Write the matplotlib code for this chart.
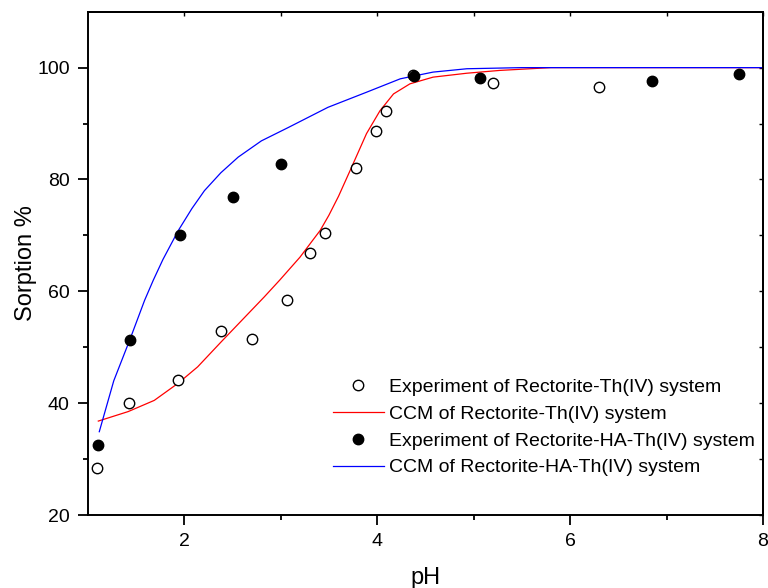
import matplotlib.pyplot as plt
import matplotlib.ticker as mticker

plt.rcParams['font.family'] = ['Liberation Sans', 'DejaVu Sans']

# experiment, Rectorite-Th(IV)
ph_th = [1.10, 1.43, 1.94, 2.38, 2.70, 3.07, 3.30, 3.46, 3.78, 3.99, 4.09, 4.37, 5.20, 6.30]
sorp_th = [28.4, 40.0, 44.1, 52.9, 51.5, 58.4, 66.8, 70.5, 82.0, 88.6, 92.3, 98.6, 97.2, 96.6]

# experiment, Rectorite-HA-Th(IV)
ph_ha = [1.11, 1.44, 1.96, 2.51, 3.00, 4.38, 5.07, 6.85, 7.75]
sorp_ha = [32.5, 51.3, 70.0, 76.9, 82.8, 98.5, 98.2, 97.6, 98.9]

# CCM fits
ccm_th_x = [1.11, 1.42, 1.69, 1.94, 2.14, 2.38, 2.63, 2.83, 2.99, 3.20, 3.41, 3.50, 3.60,
            3.72, 3.89, 4.03, 4.17, 4.34, 4.58, 4.93, 5.27, 5.8, 8.0]
ccm_th_y = [36.8, 38.5, 40.5, 43.6, 46.5, 50.9, 55.4, 59.0, 62.0, 66.1, 70.9, 73.6, 77.0,
            81.6, 88.2, 92.3, 95.3, 97.1, 98.3, 99.0, 99.5, 100.0, 100.0]

ccm_ha_x = [1.12, 1.27, 1.44, 1.59, 1.68, 1.78, 1.94, 2.08, 2.21, 2.38, 2.56, 2.80,
            3.08, 3.49, 3.89, 4.24, 4.58, 4.93, 5.5, 8.0]
ccm_ha_y = [34.9, 44.0, 51.5, 58.4, 62.0, 65.7, 70.9, 74.8, 78.0, 81.2, 84.0, 86.9,
            89.3, 92.9, 95.6, 98.0, 99.2, 99.8, 100.0, 100.0]


def main():
    fig = plt.figure(figsize=(7.68, 5.88), dpi=100)
    ax = fig.add_axes([0.1142, 0.1241, 0.8793, 0.8560])

    ax.plot(ph_th, sorp_th, 'o', ls='none', mfc='white', mec='black', mew=1.0,
            ms=7.5, label='Experiment of Rectorite-Th(IV) system', zorder=3)
    ax.plot(ccm_th_x, ccm_th_y, color='red', lw=0.9,
            label='CCM of Rectorite-Th(IV) system')
    ax.plot(ph_ha, sorp_ha, 'o', ls='none', mfc='black', mec='black',
            ms=7.5, label='Experiment of Rectorite-HA-Th(IV) system', zorder=3)
    ax.plot(ccm_ha_x, ccm_ha_y, color='blue', lw=0.9,
            label='CCM of Rectorite-HA-Th(IV) system')

    ax.set_xlim(1, 8)
    ax.set_ylim(20, 110)
    ax.xaxis.set_major_locator(mticker.FixedLocator([2, 4, 6, 8]))
    ax.xaxis.set_minor_locator(mticker.FixedLocator([3, 5, 7]))
    ax.yaxis.set_major_locator(mticker.FixedLocator([20, 40, 60, 80, 100]))
    ax.yaxis.set_minor_locator(mticker.FixedLocator([30, 50, 70, 90]))

    for s in ax.spines.values():
        s.set_linewidth(1.4)
    ax.tick_params(which='major', direction='out', length=7, width=1.3,
                   labelsize=14, pad=6)
    ax.tick_params(which='minor', direction='out', length=3.8, width=1.3)

    # inward ticks on the opposite sides, no labels
    top = ax.secondary_xaxis('top')
    top.xaxis.set_major_locator(mticker.FixedLocator([2, 4, 6, 8]))
    top.xaxis.set_minor_locator(mticker.FixedLocator([3, 5, 7]))
    top.tick_params(which='both', direction='in', length=3, width=1.0,
                    labelbottom=False, labeltop=False)
    top.spines['top'].set_linewidth(1.4)
    right = ax.secondary_yaxis('right')
    right.yaxis.set_major_locator(mticker.FixedLocator([20, 40, 60, 80, 100]))
    right.yaxis.set_minor_locator(mticker.FixedLocator([30, 50, 70, 90]))
    right.tick_params(which='both', direction='in', length=3, width=1.0,
                      labelleft=False, labelright=False)
    right.spines['right'].set_linewidth(1.4)

    ax.set_xlabel('pH', fontsize=17, labelpad=12)
    ax.set_ylabel('Sorption %', fontsize=17, labelpad=0)

    ax.legend(loc='upper left', bbox_to_anchor=(333 / 768, 1 - 378 / 588),
              bbox_transform=fig.transFigure, frameon=False, fontsize=14,
              handlelength=2.6, handletextpad=0.3, labelspacing=0.48,
              borderpad=0, borderaxespad=0)

    fig.savefig('out.png', dpi=100)


if __name__ == '__main__':
    main()
